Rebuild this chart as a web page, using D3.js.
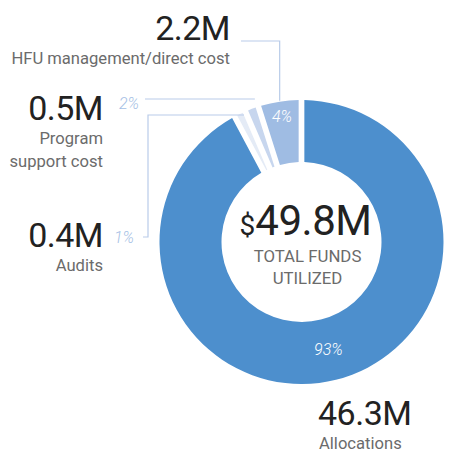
<!DOCTYPE html>
<html>
<head>
<meta charset="UTF-8">
<style>
  body { margin: 0; background: #fff; }
  svg { display: block; font-family: Roboto, "Noto Sans", sans-serif; }
</style>
</head>
<body>
<svg></svg>
<script src="https://d3js.org/d3.v7.min.js"></script>
<script>
  // data
  const categories = ["Allocations", "Audits", "Program support cost", "HFU management/direct cost"];
  const amounts = [46.3, 0.4, 0.5, 2.2];
  const amountLabels = ["46.3M", "0.4M", "0.5M", "2.2M"];
  const shareLabels = ["93%", "1%", "2%", "4%"];
  const nameLines = [["Allocations"], ["Audits"], ["Program", "support cost"], ["HFU management/direct cost"]];
  const totalLabel = "49.8M";

  const colors = ["#4d8fcd", "#e4ebf6", "#c7d6ee", "#9fbce3"];
  const lineColor = "#b9cce9";

  let width = 467, height = 456;
  let cx = 301.5, cy = 242, rOuter = 142, rInner = 80;

  let svg = d3.select("svg").attr("width", width).attr("height", height);

  let rows = categories.map((c, i) => ({
    name: c, value: amounts[i], amount: amountLabels[i], share: shareLabels[i], lines: nameLines[i], color: colors[i]
  }));

  let pie = d3.pie().sort(null).value(d => d.value).padAngle(0.035);
  let arcs = pie(rows);
  let arc = d3.arc().innerRadius(rInner).outerRadius(rOuter);

  let g = svg.append("g").attr("transform", `translate(${cx},${cy})`);

  g.selectAll("path")
    .data(arcs)
    .enter()
    .append("path")
    .attr("d", arc)
    .attr("fill", d => d.data.color);

  // point on a slice at a given radius
  function at(d, r) {
    let a = (d.startAngle + d.endAngle) / 2;
    return [cx + r * Math.sin(a), cy - r * Math.cos(a)];
  }

  // leader lines
  let hfu = at(arcs[3], rOuter);
  let prog = at(arcs[2], rOuter);
  let aud = at(arcs[1], rOuter);
  let lines = [
    [[241, 41], [hfu[0], 41], [hfu[0], hfu[1] - 1]],
    [[145, 99], [prog[0] + 3, 99]],
    [[aud[0] + 4, 115], [148, 115], [148, 237], [143, 237]]
  ];
  svg.selectAll("polyline.leader")
    .data(lines)
    .enter()
    .append("polyline")
    .attr("class", "leader")
    .attr("points", d => d.map(p => p.join(",")).join(" "))
    .attr("fill", "none")
    .attr("stroke", lineColor)
    .attr("stroke-width", 1.2);

  // percentages inside the ring
  let p93 = at(arcs[0], (rInner + rOuter) / 2);
  let p4 = at(arcs[3], 127);
  svg.selectAll("text.inpct")
    .data([[p93, rows[0].share], [p4, rows[3].share]])
    .enter()
    .append("text")
    .attr("class", "inpct")
    .attr("x", d => d[0][0])
    .attr("y", d => d[0][1])
    .attr("dy", "0.35em")
    .attr("text-anchor", "middle")
    .attr("fill", "#fff")
    .style("font-size", "16px")
    .style("font-style", "italic")
    .style("font-weight", 300)
    .text(d => d[1]);

  // percentages outside
  svg.append("text").attr("x", 139).attr("y", 109).attr("text-anchor", "end")
    .attr("fill", "#a6bfe5").style("font-size", "16px").style("font-style", "italic").style("font-weight", 300)
    .text(rows[2].share);
  svg.append("text").attr("x", 134).attr("y", 243).attr("text-anchor", "end")
    .attr("fill", "#a6bfe5").style("font-size", "16px").style("font-style", "italic").style("font-weight", 300)
    .text(rows[1].share);

  // category labels: [row index, x, amount baseline, anchor]
  let labelPos = [[0, 318, 425, "start"], [1, 103, 247, "end"], [2, 103, 120, "end"], [3, 230, 40, "end"]];
  labelPos.forEach(([i, x, y, anchor]) => {
    let d = rows[i];
    svg.append("text")
      .attr("x", x).attr("y", y)
      .attr("text-anchor", anchor)
      .attr("fill", "#222")
      .style("font-size", "34px")
      .style("font-weight", 400)
      .style("letter-spacing", "-0.5px")
      .text(d.amount);
    d.lines.forEach((t, j) => {
      svg.append("text")
        .attr("x", anchor == "start" ? x + 1 : x).attr("y", y + 24 + j * 23)
        .attr("text-anchor", anchor)
        .attr("fill", "#6b6b6b")
        .style("font-size", "16.6px")
        .text(t);
    });
  });

  // centre total
  let total = svg.append("text")
    .attr("x", cx + 4).attr("y", 235)
    .attr("text-anchor", "middle")
    .attr("fill", "#222");
  total.append("tspan").style("font-size", "28px").text("$");
  total.append("tspan").style("font-size", "42px").style("letter-spacing", "-0.5px").text(totalLabel);

  svg.selectAll("text.sub")
    .data(["TOTAL FUNDS", "UTILIZED"])
    .enter()
    .append("text")
    .attr("class", "sub")
    .attr("x", cx + 6)
    .attr("y", (d, i) => 262 + i * 22)
    .attr("text-anchor", "middle")
    .attr("fill", "#6b6b6b")
    .style("font-size", "16.8px")
    .text(d => d);
</script>
</body>
</html>
